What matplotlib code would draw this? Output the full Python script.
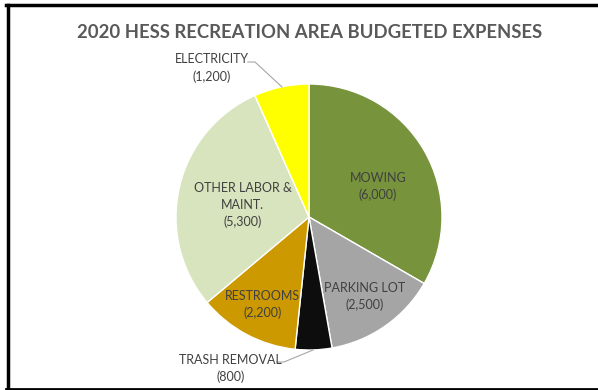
import matplotlib.pyplot as plt

# Budget data
categorias = ['MOWING', 'PARKING LOT', 'TRASH REMOVAL', 'RESTROOMS',
              'OTHER LABOR &\nMAINT.', 'ELECTRICITY']
montos = [6000, 2500, 800, 2200, 5300, 1200]
colores = ['#77933C', '#A5A5A5', '#0D0D0D', '#CC9900', '#D7E4BD', '#FFFF00']

# Label offsets from the centre, in radius units
offsets = [(0.52, 0.23), (0.42, -0.60), (-0.59, -1.14), (-0.35, -0.66),
           (-0.50, 0.09), (-0.73, 1.12)]

plt.rcParams['font.family'] = ['Lato', 'DejaVu Sans']

W, H = 598, 390
fig = plt.figure(figsize=(W / 100, H / 100), dpi=100)
ax = fig.add_axes([0, 0, 1, 1])

cx, cy, r = 309, 173, 133
ax.pie(montos, colors=colores, startangle=90, counterclock=False,
       center=(cx, cy), radius=r, frame=True,
       wedgeprops=dict(edgecolor='white', linewidth=1))
ax.set_xlim(0, W)
ax.set_ylim(0, H)
ax.set_aspect('auto')
ax.axis('off')

for cat, m, (dx, dy) in zip(categorias, montos, offsets):
    ax.text(cx + dx * r, cy + dy * r, '{}\n({:,})'.format(cat, m),
            ha='center', va='center', fontsize=9, color='#404040',
            linespacing=1.45)

# Leader lines for the outside labels
gris = '#A6A6A6'
ax.plot([248, 255, 282], [H - 62, H - 62, H - 87], color=gris, lw=0.8)
ax.plot([277, 284, 313], [H - 362, H - 362, H - 350], color=gris, lw=0.8)

ax.text(310, H - 32, '2020 HESS RECREATION AREA BUDGETED EXPENSES',
        ha='center', va='center', fontsize=13.3, fontweight='bold', color='#595959')

# Frame
ax.plot([6, W], [H - 5, H - 5], color='black', lw=2.5, clip_on=False)
ax.plot([7.5, 7.5], [H - 5, 1], color='black', lw=2.5, clip_on=False)
ax.plot([6, W], [1.5, 1.5], color='black', lw=2, clip_on=False)

fig.savefig('out.png', dpi=100)
